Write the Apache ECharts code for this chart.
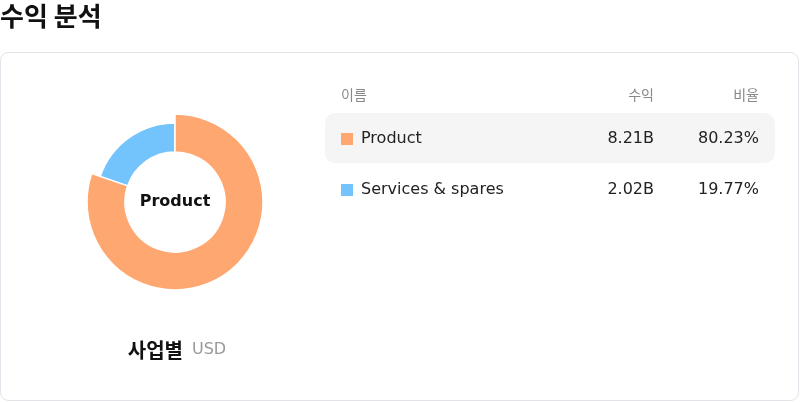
<!DOCTYPE html>
<html lang="ko">
<head>
    <meta charset="UTF-8">
    <script src="https://cdn.jsdelivr.net/npm/echarts@6/dist/echarts.min.js"></script>
    <title>수익 분석</title>
    <style>
        body, html {
            margin: 0;
            height: 100%;
            background: #fff;
        }

        #main {
            width: 800px;
            height: 402px;
        }
    </style>
</head>
<body>
<div id="main"></div>
<script>
    // 데이터
    const names = ['Product', 'Services & spares'];
    const revenue = ['8.21B', '2.02B'];
    const shares = [80.23, 19.77];
    const colors = ['#ffa771', '#73c3fd'];
    const headers = ['이름', '수익', '비율'];

    const font = '"DejaVu Sans", "Noto Sans CJK KR", sans-serif';
    const krFont = '"Noto Sans CJK KR", "DejaVu Sans", sans-serif';
    const chart = echarts.init(document.getElementById('main'));

    const graphic = [
        {type: 'text', x: 0, y: 16, style: {text: '수익 분석', fontSize: 26, fontWeight: 'bold', fill: '#111', fontFamily: krFont, verticalAlign: 'middle'}},
        {type: 'rect', shape: {x: 0.5, y: 52.5, width: 798, height: 348, r: 8}, style: {fill: '#fff', stroke: '#e2e2ea', lineWidth: 1}, z: -10},
        {type: 'rect', shape: {x: 325, y: 113, width: 450, height: 50, r: 10}, style: {fill: '#f5f5f5'}, z: -5},
        {type: 'text', x: 341, y: 95, style: {text: headers[0], fontSize: 14, fill: '#888', fontFamily: krFont, verticalAlign: 'middle'}},
        {type: 'text', x: 654, y: 95, style: {text: headers[1], fontSize: 14, fill: '#888', fontFamily: krFont, align: 'right', verticalAlign: 'middle'}},
        {type: 'text', x: 759, y: 95, style: {text: headers[2], fontSize: 14, fill: '#888', fontFamily: krFont, align: 'right', verticalAlign: 'middle'}},
        {type: 'text', x: 183, y: 350, style: {text: '사업별', fontSize: 20, fontWeight: 'bold', fill: '#111', fontFamily: krFont, align: 'right', verticalAlign: 'middle'}},
        {type: 'text', x: 192, y: 350, style: {text: 'USD', fontSize: 16, fill: '#999', fontFamily: font, verticalAlign: 'middle'}}
    ];

    names.forEach((name, i) => {
        const y = 139 + i * 51;
        graphic.push(
            {type: 'rect', shape: {x: 341, y: y - 6, width: 12, height: 12}, style: {fill: colors[i]}},
            {type: 'text', x: 361, y: y, style: {text: name, fontSize: 16, fill: '#222', fontFamily: font, verticalAlign: 'middle'}},
            {type: 'text', x: 654, y: y, style: {text: revenue[i], fontSize: 16, fill: '#222', fontFamily: font, align: 'right', verticalAlign: 'middle'}},
            {type: 'text', x: 759, y: y, style: {text: shares[i].toFixed(2) + '%', fontSize: 16, fill: '#222', fontFamily: font, align: 'right', verticalAlign: 'middle'}}
        );
    });

    const option = {
        animation: false,
        graphic: graphic,
        series: [
            {
                type: 'pie',
                center: [175, 202],
                radius: [50, 79],
                startAngle: 90,
                clockwise: true,
                itemStyle: {borderColor: '#fff', borderWidth: 1.5},
                label: {show: false, position: 'center'},
                labelLine: {show: false},
                emphasis: {
                    scale: true,
                    scaleSize: 9,
                    label: {show: true, fontSize: 16, fontWeight: 'bold', color: '#111', fontFamily: font}
                },
                data: names.map((name, i) => ({
                    name: name,
                    value: shares[i],
                    itemStyle: {color: colors[i]},
                    emphasis: {itemStyle: {color: colors[i]}}
                }))
            }
        ]
    };

    chart.setOption(option);
    chart.dispatchAction({type: 'highlight', seriesIndex: 0, dataIndex: 0});
</script>
</body>
</html>
